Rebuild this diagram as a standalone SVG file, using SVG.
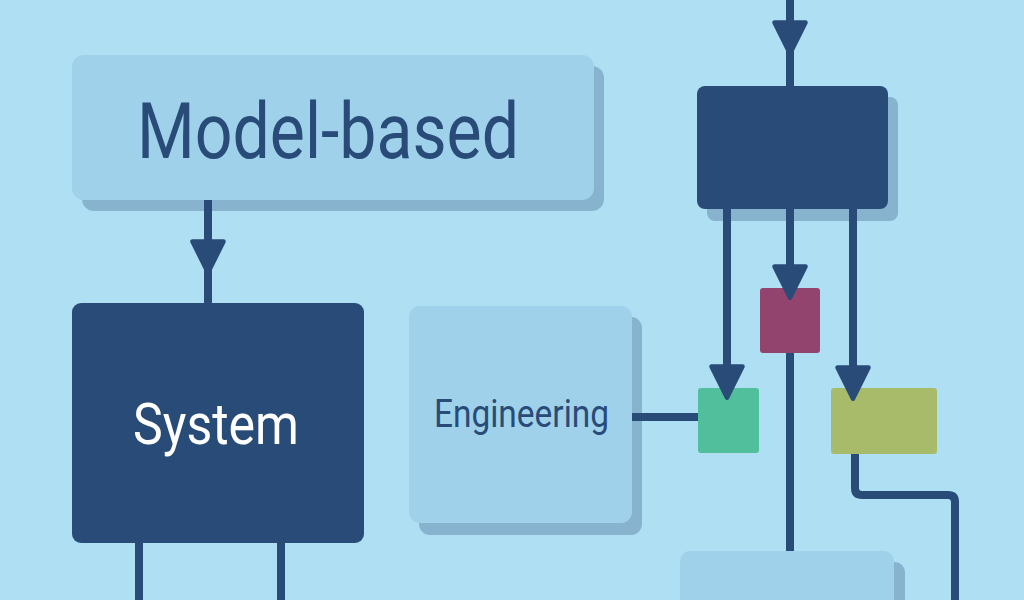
<svg xmlns="http://www.w3.org/2000/svg" width="1024" height="600" viewBox="0 0 1024 600">
<style>
.bg{fill:#aedff3}
.light{fill:#9fd1ea}
.shadow{fill:#87b3cf}
.dark{fill:#284b78}
.conn{fill:none;stroke:#284b78;stroke-width:8;stroke-linejoin:round}
.t{font-family:Roboto,"Liberation Sans",sans-serif}
</style>
<defs>
<marker id="ah" markerUnits="userSpaceOnUse" markerWidth="40" markerHeight="40" viewBox="-2 -18 34 36" refX="22" refY="0" orient="auto" overflow="visible">
<path d="M0,-14 L28,0 L0,14 Z" fill="#284b78" stroke="#284b78" stroke-width="4" stroke-linejoin="round"/>
</marker>
</defs>
<rect class="bg" x="0" y="0" width="1024" height="600"/>

<g id="node-model-based">
<rect class="shadow" x="82" y="66" width="522" height="145" rx="12"/>
<rect class="light" x="72" y="55" width="522" height="145" rx="12"/>
<text class="t" x="137" y="158" font-size="77" fill="#284b78" textLength="382" lengthAdjust="spacingAndGlyphs">Model-based</text>
</g>

<g id="node-system">
<rect class="dark" x="72" y="303" width="292" height="240" rx="9"/>
<text class="t" x="133" y="444" font-size="57" fill="#ffffff" textLength="166" lengthAdjust="spacingAndGlyphs">System</text>
</g>

<g id="node-engineering">
<rect class="shadow" x="419" y="317" width="223" height="218" rx="11"/>
<rect class="light" x="409" y="306" width="223" height="217" rx="11"/>
<text class="t" x="434" y="427" font-size="38" fill="#284b78" textLength="175" lengthAdjust="spacingAndGlyphs">Engineering</text>
</g>

<g id="node-top-block">
<rect class="shadow" x="707" y="97" width="191" height="124" rx="8"/>
<rect class="dark" x="697" y="86" width="191" height="123" rx="8"/>
</g>

<g id="node-bottom-block">
<rect class="shadow" x="691" y="562" width="214" height="60" rx="10"/>
<rect class="light" x="680" y="551" width="214" height="70" rx="10"/>
</g>

<g id="node-magenta">
<rect x="760" y="288" width="60" height="65" rx="3" fill="#93446e"/>
</g>
<g id="node-green">
<rect x="698" y="388" width="61" height="65" rx="3" fill="#52bf9c"/>
</g>
<g id="node-olive">
<rect x="831" y="388" width="106" height="66" rx="3" fill="#a8bb6a"/>
</g>

<g id="connectors">
<path class="conn" d="M208,200 V266 V303" marker-mid="url(#ah)"/>
<path class="conn" d="M790,0 V47 V86" marker-mid="url(#ah)"/>
<path class="conn" d="M790,209 V291" marker-end="url(#ah)"/>
<path class="conn" d="M727,209 V391" marker-end="url(#ah)"/>
<path class="conn" d="M853,209 V392" marker-end="url(#ah)"/>
<path class="conn" d="M790,353 V551"/>
<path class="conn" d="M632,417 H698"/>
<path class="conn" d="M855,454 V488 Q855,495 862,495 H948 Q955,495 955,502 V600"/>
<path class="conn" d="M139,543 V600"/>
<path class="conn" d="M281,543 V600"/>
</g>
</svg>
